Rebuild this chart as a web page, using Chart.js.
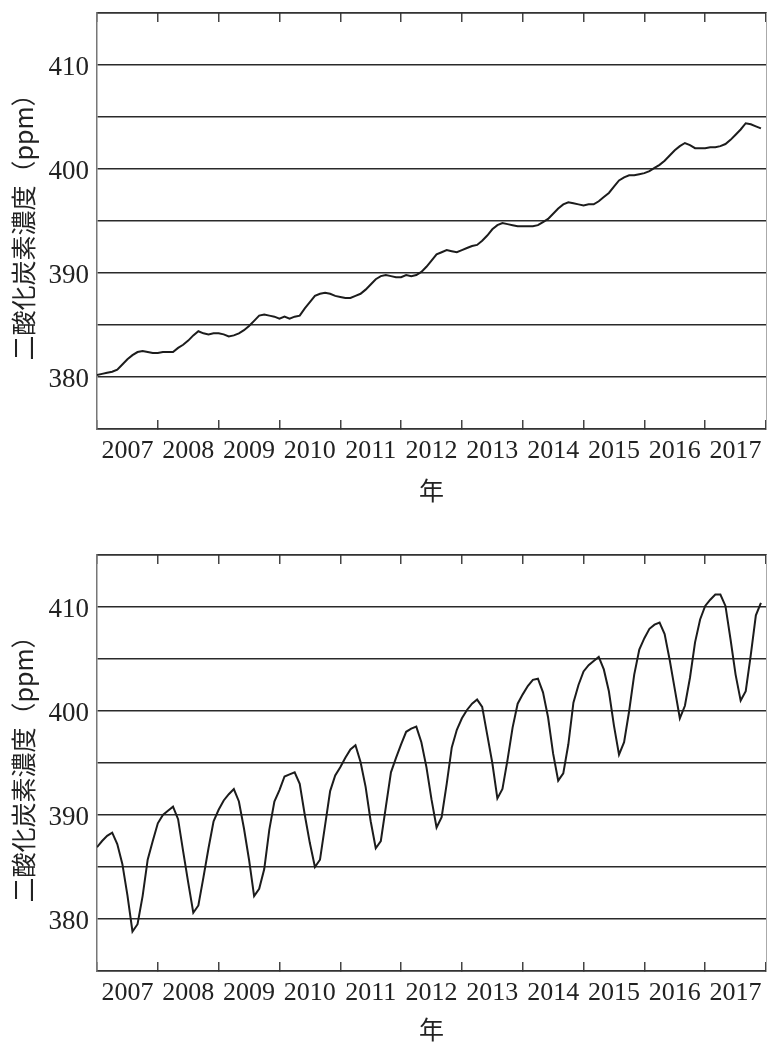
<!DOCTYPE html>
<html lang="ja">
<head>
  <meta charset="UTF-8">
  <title>二酸化炭素濃度</title>
  <style>
    body { margin: 0; background: #fff; }
    canvas { position: absolute; left: 0; }
  </style>
</head>
<body>
  <canvas id="trendChart" width="767" height="520" style="top:0"></canvas>
  <canvas id="monthlyChart" width="767" height="526" style="top:520px"></canvas>

  <script src="https://cdn.jsdelivr.net/npm/chart.js"></script>
  <script>
    // year labels (one label per year interval)
    const years = [2007, 2008, 2009, 2010, 2011, 2012, 2013, 2014, 2015, 2016, 2017];

    // deseasonalized CO2, ppm, monthly Jan 2007 - Dec 2017
    const trendPpm = [
      380.2, 380.3, 380.4, 380.5, 380.7, 381.2, 381.7, 382.1, 382.4, 382.5, 382.4, 382.3,
      382.3, 382.4, 382.4, 382.4, 382.8, 383.1, 383.5, 384.0, 384.4, 384.2, 384.1, 384.2,
      384.2, 384.1, 383.9, 384.0, 384.2, 384.5, 384.9, 385.4, 385.9, 386.0, 385.9, 385.8,
      385.6, 385.8, 385.6, 385.8, 385.9, 386.6, 387.2, 387.8, 388.0, 388.1, 388.0, 387.8,
      387.7, 387.6, 387.6, 387.8, 388.0, 388.4, 388.9, 389.4, 389.7, 389.8, 389.7, 389.6,
      389.6, 389.8, 389.7, 389.8, 390.1, 390.6, 391.2, 391.8, 392.0, 392.2, 392.1, 392.0,
      392.2, 392.4, 392.6, 392.7, 393.1, 393.6, 394.2, 394.6, 394.8, 394.7, 394.6, 394.5,
      394.5, 394.5, 394.5, 394.6, 394.9, 395.2, 395.7, 396.2, 396.6, 396.8, 396.7, 396.6,
      396.5, 396.6, 396.6, 396.9, 397.3, 397.7, 398.3, 398.9, 399.2, 399.4, 399.4, 399.5,
      399.6, 399.8, 400.1, 400.4, 400.8, 401.3, 401.8, 402.2, 402.5, 402.3, 402.0, 402.0,
      402.0, 402.1, 402.1, 402.2, 402.4, 402.8, 403.3, 403.8, 404.4, 404.3, 404.1, 403.9
    ];

    // observed monthly CO2, ppm, Jan 2007 - Dec 2017
    const monthlyPpm = [
      386.9, 387.5, 388.0, 388.3, 387.2, 385.3, 382.3, 378.8, 379.5, 382.2, 385.7, 387.5,
      389.2, 390.0, 390.4, 390.8, 389.6, 386.5, 383.5, 380.6, 381.3, 384.0, 386.8, 389.4,
      390.5, 391.4, 392.0, 392.5, 391.3, 388.7, 385.7, 382.2, 382.9, 384.8, 388.6, 391.3,
      392.4, 393.7, 393.9, 394.1, 393.0, 390.0, 387.3, 385.0, 385.7, 389.0, 392.3, 393.8,
      394.6, 395.5, 396.3, 396.7, 395.1, 392.7, 389.4, 386.8, 387.5, 390.8, 394.1, 395.5,
      396.8, 398.0, 398.3, 398.5, 397.0, 394.6, 391.5, 388.8, 389.8, 393.0, 396.5, 398.2,
      399.3, 400.1, 400.7, 401.1, 400.4, 397.7, 395.0, 391.6, 392.5, 395.3, 398.4, 400.7,
      401.6, 402.4, 403.0, 403.1, 401.8, 399.4, 395.9, 393.3, 394.0, 396.8, 400.8, 402.5,
      403.8, 404.4, 404.8, 405.2, 404.0, 401.9, 398.6, 395.8, 397.0, 400.0, 403.5, 405.9,
      407.0, 407.9, 408.3, 408.5, 407.4, 404.9, 402.1, 399.3, 400.5, 403.2, 406.6, 408.8,
      410.1, 410.7, 411.2, 411.2, 410.1, 406.9, 403.5, 401.0, 401.9, 405.4, 409.2, 410.4
    ];

    const yTitle = '二酸化炭素濃度（ppm）';
    const xTitle = '年';

    const serif = "'Liberation Serif', 'DejaVu Serif', serif";
    const cjk = "'Noto Sans CJK JP', 'Noto Sans CJK SC', sans-serif";

    function toPoints(values) {
      return values.map((v, i) => ({ x: years[0] + i / 12, y: v }));
    }

    // ticks sit mid-year so labels fall between the year boundary marks
    function midYearTicks(scale) {
      scale.ticks = years.map(y => ({ value: y + 0.5 }));
    }

    const tickMarks = {
      offset: true,
      drawOnChartArea: false,
      drawTicks: true,
      tickLength: -9,
      color: '#444',
      lineWidth: 1.5
    };

    function makeChart(id, values, topGap, bottomGap, titlePad) {
      const ctx = document.getElementById(id).getContext('2d');
      return new Chart(ctx, {
        type: 'line',
        data: {
          datasets: [{
            data: toPoints(values),
            borderColor: '#1c1c1c',
            borderWidth: 2,
            pointRadius: 0,
            tension: 0,
            fill: false
          }]
        },
        options: {
          responsive: false,
          animation: false,
          devicePixelRatio: 1,
          layout: { padding: 0 },
          plugins: { legend: { display: false }, tooltip: { enabled: false } },
          scales: {
            x: {
              type: 'linear',
              position: 'bottom',
              min: 2007,
              max: 2018,
              afterBuildTicks: midYearTicks,
              afterFit: s => { s.height = bottomGap; s.paddingLeft = 0; s.paddingRight = 0; },
              grid: tickMarks,
              border: { color: '#333', width: 1.5 },
              ticks: {
                autoSkip: false,
                maxRotation: 0,
                padding: 16,
                color: '#222',
                font: { family: serif, size: 26 },
                callback: (v, i) => String(years[i])
              },
              title: {
                display: true,
                text: xTitle,
                color: '#222',
                font: { family: cjk, size: 25 },
                padding: { top: 0, bottom: titlePad }
              }
            },
            xTop: {
              type: 'linear',
              position: 'top',
              min: 2007,
              max: 2018,
              afterBuildTicks: midYearTicks,
              afterFit: s => { s.height = topGap; s.paddingLeft = 0; s.paddingRight = 0; },
              grid: tickMarks,
              border: { color: '#333', width: 1.5 },
              ticks: { display: false }
            },
            y: {
              type: 'linear',
              position: 'left',
              min: 375,
              max: 415,
              afterFit: s => { s.width = 97; s.paddingTop = 0; s.paddingBottom = 0; },
              grid: { color: '#2a2a2a', lineWidth: 1.5, drawTicks: false },
              border: { color: '#777', width: 1.5 },
              ticks: {
                stepSize: 5,
                autoSkip: false,
                padding: 8,
                labelOffset: 3,
                color: '#222',
                font: { family: serif, size: 27 },
                callback: v => (v % 10 === 0 ? String(v) : '')
              },
              title: {
                display: true,
                text: yTitle,
                color: '#222',
                font: { family: cjk, size: 25 },
                padding: { top: 8, bottom: 0 }
              }
            },
            yRight: {
              type: 'linear',
              position: 'right',
              min: 375,
              max: 415,
              afterFit: s => { s.width = 1; s.paddingTop = 0; s.paddingBottom = 0; },
              grid: { drawOnChartArea: false, drawTicks: false },
              border: { color: '#aaa', width: 1 },
              ticks: { display: false }
            }
          }
        }
      });
    }

    makeChart('trendChart', trendPpm, 13, 91, 15);
    makeChart('monthlyChart', monthlyPpm, 35, 75, 2);
  </script>
</body>
</html>
